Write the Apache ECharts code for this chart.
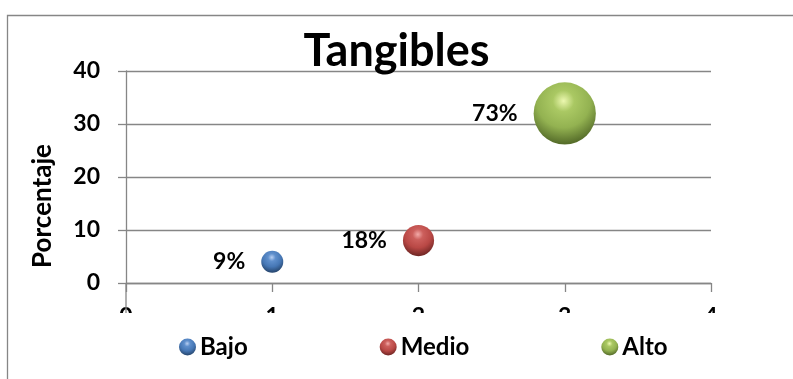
<!DOCTYPE html>
<html>
<head>
<meta charset="utf-8">
<script src="https://cdn.jsdelivr.net/npm/echarts@6/dist/echarts.min.js"></script>
<style>
  html, body { margin: 0; padding: 0; background: #fff; }
  #chart { width: 793px; height: 379px; }
</style>
</head>
<body>
<div id="chart"></div>
<script>
// Tangibles: one bubble per level, y = count, label = share of total
const categories = ['Bajo', 'Medio', 'Alto'];
const xValues = [1, 2, 3];
const yValues = [4, 8, 32];
const xTicks = [0, 1, 2, 3, 4];
const yTicks = [0, 10, 20, 30, 40];

const FONT = 'Lato, "Open Sans", sans-serif';
const total = yValues.reduce((a, b) => a + b, 0);
const pct = yValues.map(v => Math.round(v / total * 100) + '%');

// sphere shading per level
const palette = [
  { hi: '#b8cff2', mid: '#5f8fcc', base: '#4677b5', dark: '#27476f' },
  { hi: '#f2aaa8', mid: '#cc5f5c', base: '#b94845', dark: '#722725' },
  { hi: '#ecf8b0', mid: '#aac863', base: '#93b251', dark: '#566d2a' }
];
function sphere(c) {
  return new echarts.graphic.RadialGradient(0.48, 0.3, 0.78, [
    { offset: 0, color: c.hi },
    { offset: 0.22, color: c.mid },
    { offset: 0.55, color: c.base },
    { offset: 0.88, color: c.dark },
    { offset: 1, color: c.base }
  ]);
}

const chart = echarts.init(document.getElementById('chart'), null, { renderer: 'canvas' });

const series = categories.map((name, i) => ({
  name: name,
  type: 'scatter',
  data: [[xValues[i], yValues[i]]],
  symbol: 'circle',
  symbolSize: d => 11 * Math.sqrt(d[1]),
  itemStyle: { color: sphere(palette[i]), opacity: 1 },
  label: {
    show: true,
    position: 'left',
    distance: 16,
    formatter: () => pct[i],
    fontFamily: FONT,
    fontWeight: 'bold',
    fontSize: 23,
    color: '#000'
  },
  emphasis: { disabled: true }
}));

const option = {
  animation: false,
  backgroundColor: '#fff',
  title: {
    text: 'Tangibles',
    left: 'center',
    top: 24,
    textStyle: { fontFamily: FONT, fontWeight: 'bold', fontSize: 45, color: '#000' }
  },
  legend: {
    data: categories,
    left: 174,
    top: 330,
    itemGap: 132,
    itemWidth: 17,
    itemHeight: 17,
    icon: 'circle',
    textStyle: { fontFamily: FONT, fontWeight: 'bold', fontSize: 24, color: '#000', padding: [0, 0, 0, -1] }
  },
  grid: { left: 126, top: 71, right: 82, bottom: 96 },
  xAxis: {
    type: 'value',
    min: xTicks[0],
    max: xTicks[xTicks.length - 1],
    interval: 1,
    axisLine: { show: true, lineStyle: { color: '#868686', width: 1.3 } },
    axisTick: { show: true, length: 9, lineStyle: { color: '#868686', width: 1.3 } },
    axisLabel: { margin: 22, fontFamily: FONT, fontWeight: 'bold', fontSize: 23, color: '#000' },
    splitLine: { show: false }
  },
  yAxis: {
    type: 'value',
    min: yTicks[0],
    max: yTicks[yTicks.length - 1],
    interval: 10,
    axisLine: { show: true, lineStyle: { color: '#868686', width: 1.3 } },
    axisTick: { show: true, length: 8, lineStyle: { color: '#868686', width: 1.3 } },
    axisLabel: { margin: 26, fontFamily: FONT, fontWeight: 'bold', fontSize: 23, color: '#000' },
    splitLine: { show: true, lineStyle: { color: '#868686', width: 1.3 } }
  },
  series: series
};

chart.setOption(option);

// decorations: chart frame, axis extension, clipped tick-label band, rotated axis title
const origin = chart.convertToPixel({ gridIndex: 0 }, [0, 0]);
const topLeft = chart.convertToPixel({ gridIndex: 0 }, [0, 40]);
const rightEnd = chart.convertToPixel({ gridIndex: 0 }, [4, 0]);
const clipY = origin[1] + 30;
chart.setOption({
  graphic: [
    {
      type: 'rect', z: 0, silent: true,
      shape: { x: 7.5, y: 15.5, width: 900, height: 500 },
      style: { fill: 'none', stroke: '#868686', lineWidth: 1.3 }
    },
    {
      type: 'rect', z: 100, silent: true,
      shape: { x: origin[0] - 40, y: clipY, width: rightEnd[0] - origin[0] + 80, height: 14 },
      style: { fill: '#fff' }
    },
    {
      type: 'line', z: 101, silent: true,
      shape: { x1: origin[0], y1: origin[1], x2: origin[0], y2: clipY },
      style: { stroke: '#868686', lineWidth: 1.3 }
    },
    {
      type: 'text', z: 101, silent: true,
      x: 43, y: (topLeft[1] + clipY) / 2 + 14,
      rotation: Math.PI / 2,
      style: {
        text: 'Porcentaje', fontFamily: FONT, fontWeight: 'bold', fontSize: 26,
        fill: '#000', align: 'center', verticalAlign: 'middle'
      }
    }
  ]
});
</script>
</body>
</html>
